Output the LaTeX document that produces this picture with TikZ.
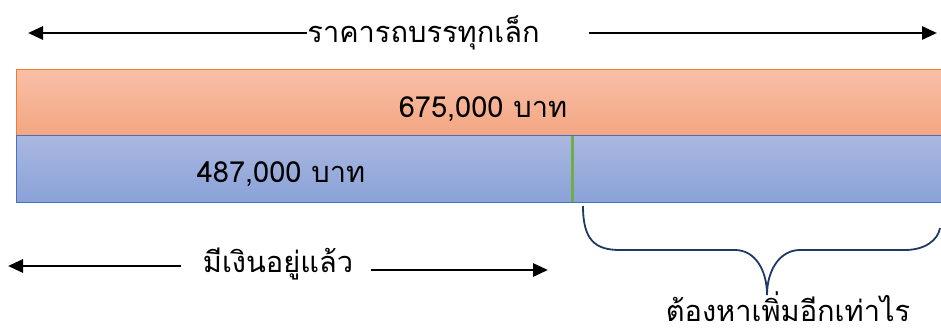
\documentclass[tikz,border=0pt]{standalone}
\usepackage{fontspec}
\newfontfamily\thai[Script=Thai]{Loma}
\usetikzlibrary{arrows.meta}
\definecolor{orangeTop}{RGB}{248,192,168}
\definecolor{orangeBot}{RGB}{244,166,130}
\definecolor{orangeLine}{RGB}{237,125,49}
\definecolor{blueTop}{RGB}{170,184,224}
\definecolor{blueBot}{RGB}{138,162,216}
\definecolor{blueLine}{RGB}{68,114,196}
\definecolor{splitGreen}{RGB}{112,173,71}
\definecolor{braceBlue}{RGB}{31,56,100}
\begin{document}
\begin{tikzpicture}[x=1pt,y=-1pt,
  lbl/.style={font=\thai\fontsize{29}{33}\selectfont, inner sep=0pt, anchor=base},
  arr/.style={line width=2.8pt, -{Triangle[length=15pt,width=13pt]}},
  bar/.style={rectangle, inner sep=0pt, line width=0.8pt, minimum width=925pt}
]
\useasboundingbox (0,0) rectangle (941,332);
% bars
\node[bar, draw=orangeLine, top color=orangeTop, bottom color=orangeBot, minimum height=66pt] (total) at (478.5,102) {};
\node[bar, draw=blueLine, top color=blueTop, bottom color=blueBot, minimum height=67pt] (have) at (478.5,168.5) {};
\coordinate (splitT) at (572,135.5);
\coordinate (splitB) at (572,201.5);
\draw[splitGreen, line width=3pt] (splitT) -- (splitB);
% texts
\node[lbl] (price) at (423.5,42) {ราคารถบรรทุกเล็ก};
\node[lbl] (totalTxt) at (483,117) {675,000 บาท};
\node[lbl] (haveTxt) at (281,182) {487,000 บาท};
\node[lbl] (haveLbl) at (278,272) {มีเงินอยู่แล้ว};
\node[lbl, text depth=0pt] (need) at (788,321) {ต้องหาเพิ่มอีกเท่าไร};
% top arrows
\coordinate (tl) at (28,33);
\coordinate (ts) at (589,33);
\coordinate (tr) at (937,33);
\draw[arr] (price.west |- tl) -- (tl);
\draw[arr] (ts) -- (tr);
% bottom arrows
\coordinate (bls) at (181,266);
\coordinate (bl) at (8,266);
\coordinate (brs) at (371,270);
\coordinate (br) at (548,270);
\draw[arr] (bls) -- (bl);
\draw[arr] (brs) -- (br);
% brace
\coordinate (bL) at (583,206);
\coordinate (bTip) at (767,295);
\coordinate (bR) at (940,228);
\draw[braceBlue, line width=1.8pt]
  (bL) .. controls (583,240) and (595,250) .. (620,250) -- (735,250)
  .. controls (755,250) and (767,270) .. (bTip)
  .. controls (767,270) and (780,250) .. (800,250) -- (905,250)
  .. controls (925,250) and (938,240) .. (bR);
\end{tikzpicture}
\end{document}
